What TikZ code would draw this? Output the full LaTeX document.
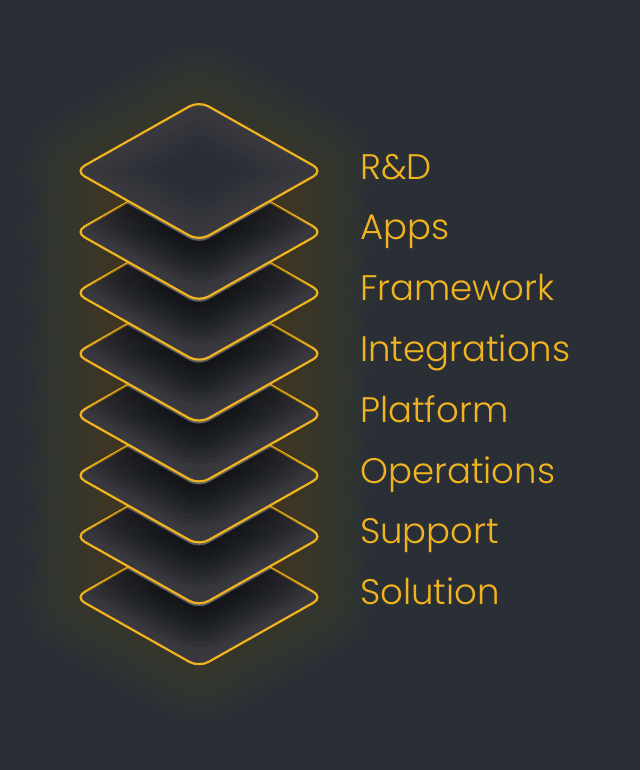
\documentclass[tikz,border=0pt]{standalone}
\usepackage{fontspec}
\setmainfont{Poppins Light}
\definecolor{bg}{HTML}{2A2F36}
\definecolor{gold}{HTML}{F2B41E}
\definecolor{haze}{HTML}{8C8468}
\definecolor{shade}{HTML}{14130C}
\tikzset{
  dia/.style={insert path={(137,#1-35) -- (199,#1-70) -- (323,#1) -- (199,#1+70) -- (75,#1) -- cycle}},
  rc/.style={rounded corners=11pt},
  rim/.style={draw=gold, line width=2.2pt, rounded corners=11pt},
  lbl/.style={text=gold, font=\fontsize{35.5pt}{40pt}\selectfont, anchor=base west, inner sep=0pt},
}
\begin{document}
\begin{tikzpicture}[x=1pt,y=-1pt]
\fill[bg] (0,0) rectangle (640,770);
\useasboundingbox (0,0) rectangle (640,770);
% outer glow
\foreach \k in {0,...,7}{
  \pgfmathsetmacro\cy{171+60.9*\k}
  \foreach \w in {110,100,...,10}{
    \draw[rc, gold, line width=\w pt, opacity=0.009, dia=\cy];
  }
}
% layers from bottom to top
\foreach \k in {7,6,...,0}{
  \pgfmathsetmacro\cy{171+60.9*\k}
  \fill[rc, bg, dia=\cy];
  \begin{scope}
    \clip[rc, dia=\cy];
    \foreach \w in {70,62,...,6}{
      \draw[rc, haze, line width=\w pt, opacity=0.022, dia=\cy];
    }
  \end{scope}
  \draw[rim, dia=\cy];
  \ifnum\k>0
    \pgfmathsetmacro\sz{171+60.9*(\k-1)+3}
    \begin{scope}
      \clip[rc, dia=\cy];
      \foreach \w in {80,70,...,10}{
        \draw[rc, shade, line width=\w pt, opacity=0.075, dia=\sz];
      }
    \end{scope}
  \fi
}
\node[lbl] (t0) at (360,179.0) {R\&D};
\node[lbl] (t1) at (360,239.8) {Apps};
\node[lbl] (t2) at (360,300.6) {Framework};
\node[lbl] (t3) at (360,361.4) {Integrations};
\node[lbl] (t4) at (360,422.2) {Platform};
\node[lbl] (t5) at (360,483.0) {Operations};
\node[lbl] (t6) at (360,543.8) {Support};
\node[lbl] (t7) at (360,604.6) {Solution};
\end{tikzpicture}
\end{document}
